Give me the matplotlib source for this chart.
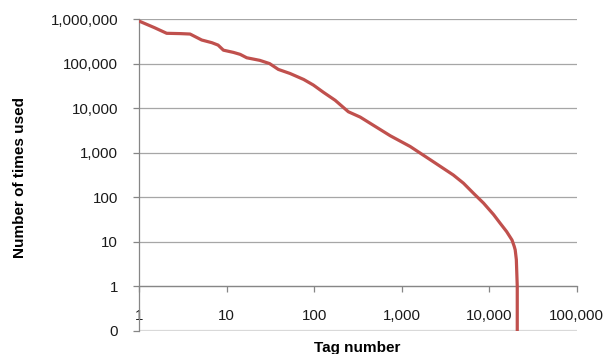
# Tag usage by rank, log-log (Excel style)

import numpy as np
import matplotlib.pyplot as plt
from matplotlib.ticker import FuncFormatter, FixedLocator, NullLocator

tag_rank = [1, 1.5, 2.07, 3.0, 3.83, 4.4, 5.2, 6.8, 8, 9.2, 12, 14.3, 17, 24, 31, 39, 53,
            76, 98, 128, 174, 246, 336, 437, 741, 1250, 2290, 3890, 5080, 6610, 8610,
            11200, 13360, 15800, 18200, 19300, 19800, 20400, 20900, 20900]
times_used = [900000, 640000, 478000, 470000, 460000, 400000, 338000, 294000, 260000,
              200000, 178000, 161000, 135000, 118000, 100000, 74000, 60000, 44000, 33000,
              22600, 15000, 8300, 6300, 4570, 2400, 1380, 630, 316, 207, 123, 74,
              41, 26, 17, 11, 7.9, 6.6, 4, 1, 0.1]

x_ticks = [1, 10, 100, 1000, 10000, 100000]
y_ticks = [0.1, 1, 10, 100, 1000, 10000, 100000, 1000000]

plt.rcParams['font.family'] = ['Liberation Sans', 'DejaVu Sans']

fig = plt.figure(figsize=(6.11, 3.54), dpi=100)
ax = fig.add_axes([0.2275, 0.065, 0.944 - 0.2275, 0.9463 - 0.065])

ax.set_xscale('log')
ax.set_yscale('log')
ax.set_xlim(1, 100000)
ax.set_ylim(0.1, 1000000)

ax.plot(tag_rank, times_used, color='#c0504d', lw=2.3, solid_capstyle='butt',
        solid_joinstyle='round', zorder=3)

fmt = FuncFormatter(lambda v, p: '{:,.0f}'.format(v))
ax.xaxis.set_major_locator(FixedLocator(x_ticks))
ax.xaxis.set_minor_locator(NullLocator())
ax.yaxis.set_major_locator(FixedLocator(y_ticks))
ax.yaxis.set_minor_locator(NullLocator())
ax.xaxis.set_major_formatter(fmt)
ax.yaxis.set_major_formatter(fmt)

# horizontal gridlines
for v in y_ticks[1:]:
    ax.axhline(v, color='#a6a6a6', lw=0.9, zorder=1)
ax.axhline(y_ticks[0], color='#d9d9d9', lw=1.6, zorder=1)

for s in ['top', 'right']:
    ax.spines[s].set_visible(False)
ax.spines['left'].set_color('#868686')
ax.spines['left'].set_linewidth(0.9)
ax.spines['bottom'].set_position(('data', 1))
ax.spines['bottom'].set_color('#868686')
ax.spines['bottom'].set_linewidth(0.9)

ax.tick_params(axis='y', direction='out', length=4, width=0.9, color='#868686',
               pad=11, labelsize=10.8, labelcolor='#1a1a1a')
ax.tick_params(axis='x', direction='out', length=4, width=0.9, color='#868686',
               pad=12.5, labelsize=10.8, labelcolor='#1a1a1a')

fig.text(20 / 611, 1 - 178 / 354, 'Number of times used', rotation=90, fontsize=11,
         fontweight='bold', ha='center', va='center')
fig.text(357 / 611, 1 - 352 / 354, 'Tag number', fontsize=11, fontweight='bold',
         ha='center', va='baseline')

fig.savefig('out.png', dpi=100)
